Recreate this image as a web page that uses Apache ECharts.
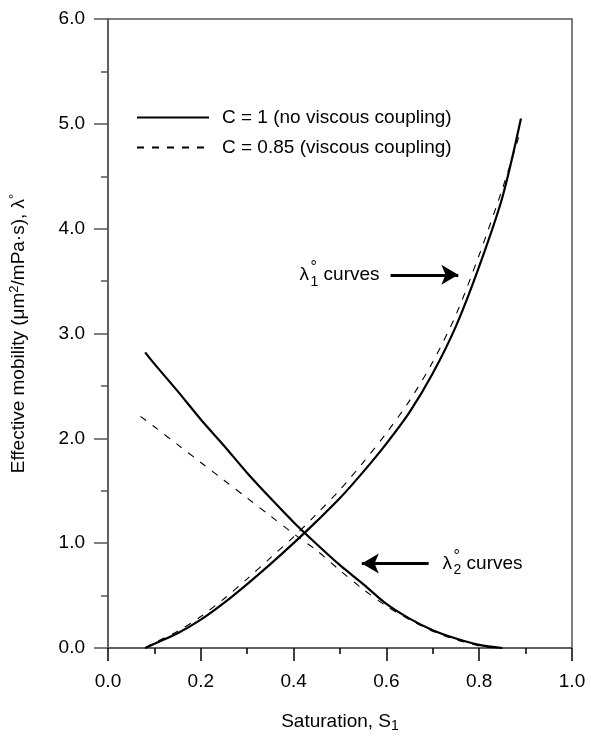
<!DOCTYPE html>
<html><head><meta charset="utf-8">
<script src="https://cdn.jsdelivr.net/npm/echarts@6/dist/echarts.min.js"></script>
<style>html,body{margin:0;padding:0;background:#fff}#c{width:591px;height:738px}</style>
</head><body><div id="c"></div>
<script>
var xTicks = [0.0, 0.2, 0.4, 0.6, 0.8, 1.0];
var yTicks = [0.0, 1.0, 2.0, 3.0, 4.0, 5.0, 6.0];
var seriesNames = ['C = 1 (no viscous coupling)', 'C = 0.85 (viscous coupling)'];
// lambda1 (C = 1)
var s1Solid = [0.08,0.10,0.15,0.20,0.25,0.30,0.35,0.40,0.45,0.50,0.55,0.60,0.65,0.70,0.75,0.80,0.85,0.89];
var l1Solid = [0.00,0.04,0.14,0.27,0.43,0.61,0.80,1.00,1.21,1.43,1.68,1.95,2.25,2.62,3.07,3.64,4.30,5.05];
// lambda2 (C = 1)
var s2Solid = [0.08,0.10,0.15,0.20,0.25,0.30,0.35,0.40,0.45,0.50,0.55,0.60,0.65,0.70,0.75,0.80,0.85];
var l2Solid = [2.82,2.71,2.45,2.18,1.93,1.67,1.43,1.20,0.99,0.79,0.61,0.42,0.28,0.17,0.09,0.03,0.00];
// lambda1 (C = 0.85)
var s1Dash = [0.08,0.10,0.15,0.20,0.25,0.30,0.35,0.40,0.45,0.50,0.55,0.60,0.65,0.70,0.75,0.80,0.85,0.885];
var l1Dash = [0.00,0.05,0.16,0.30,0.47,0.66,0.86,1.06,1.28,1.51,1.77,2.05,2.36,2.73,3.18,3.75,4.38,4.87];
// lambda2 (C = 0.85)
var s2Dash = [0.07,0.10,0.15,0.20,0.25,0.30,0.35,0.40,0.45,0.50,0.55,0.60,0.65,0.70,0.75,0.80,0.83];
var l2Dash = [2.21,2.11,1.94,1.77,1.60,1.43,1.26,1.09,0.93,0.74,0.56,0.40,0.27,0.16,0.08,0.02,0.00];
// arrows [tail, head] in data units
var arrow1 = [[0.609, 3.56], [0.755, 3.56]];
var arrow2 = [[0.691, 0.805], [0.547, 0.805]];

function pairs(xs, ys){ return xs.map(function(x,i){return [x, ys[i]];}); }
var FONT = 'Liberation Sans, Arial, sans-serif';
var FS = 19;
var chart = echarts.init(document.getElementById('c'));
var axisCol = '#555';
function arrowLine(a){
  return {
    silent: true, symbol: ['none','arrow'], symbolSize: [15, 17],
    label: {show:false},
    lineStyle: {color:'#000', width: 3, type:'solid'},
    data: [[{coord: a[0]}, {coord: a[1]}]],
    emphasis: {disabled:true}
  };
}
chart.setOption({
  animation: false,
  textStyle: {fontFamily: FONT, color:'#000'},
  grid: {left: 105, right: 19, top: 19, bottom: 79, show: true, borderColor: axisCol, borderWidth: 1.5, backgroundColor:'transparent'},
  legend: {
    orient: 'vertical', left: 131, top: 103, itemWidth: 72, itemHeight: 14, itemGap: 11,
    data: seriesNames,
    itemStyle: {opacity: 0},
    textStyle: {fontFamily: FONT, fontSize: FS, color:'#000', padding:[0,0,0,8]},
    selectedMode: false
  },
  xAxis: {
    type: 'value', min: 0, max: 1, interval: 0.2,
    name: 'Saturation, S{sub|1}', nameLocation: 'middle', nameGap: 62,
    nameTextStyle: {fontFamily: FONT, fontSize: FS, color:'#000',
      rich: {sub: {fontFamily: FONT, fontSize: 14, color:'#000', verticalAlign:'bottom', padding:[9,0,0,0]}}},
    axisLine: {show: true, lineStyle: {color: axisCol, width: 1.5}},
    axisTick: {show: true, inside: false, length: 13, lineStyle: {color: '#000', width: 1.5}},
    minorTick: {show: true, splitNumber: 2, length: 6, lineStyle: {color: '#000', width: 1.5}},
    splitLine: {show: false},
    axisLabel: {fontFamily: FONT, fontSize: FS, color:'#000', margin: 24, formatter: function(v){return v.toFixed(1);}}
  },
  yAxis: {
    type: 'value', min: 0, max: 6, interval: 1,
    name: 'Effective mobility (μm{sup|2}/mPa·s), λ{sup|°}', nameLocation: 'middle', nameGap: 79,
    nameTextStyle: {fontFamily: FONT, fontSize: FS, color:'#000',
      rich: {sup: {fontFamily: FONT, fontSize: 13, color:'#000', verticalAlign:'top', padding:[0,0,8,0]}}},
    axisLine: {show: true, lineStyle: {color: axisCol, width: 1.5}},
    axisTick: {show: true, inside: false, length: 14, lineStyle: {color: axisCol, width: 1.5}},
    minorTick: {show: true, splitNumber: 2, length: 7, lineStyle: {color: axisCol, width: 1.5}},
    splitLine: {show: false},
    axisLabel: {fontFamily: FONT, fontSize: FS, color:'#000', margin: 23, formatter: function(v){return v.toFixed(1);}}
  },
  series: [
    {name: seriesNames[0], type:'line', data: pairs(s1Solid, l1Solid), smooth: 0.3, showSymbol:false, symbol:'none',
     lineStyle:{color:'#000', width:2.2, type:'solid'}, itemStyle:{color:'#000'}, z: 3,
     markLine: arrowLine(arrow1)},
    {name: seriesNames[0], type:'line', data: pairs(s2Solid, l2Solid), smooth: 0.3, showSymbol:false, symbol:'none',
     lineStyle:{color:'#000', width:2.2, type:'solid'}, itemStyle:{color:'#000'}, z: 3,
     markLine: arrowLine(arrow2)},
    {name: seriesNames[1], type:'line', data: pairs(s1Dash, l1Dash), smooth: 0.3, showSymbol:false, symbol:'none',
     lineStyle:{color:'#000', width:1.1, type:[7,8]}, itemStyle:{color:'#000'}, z: 2},
    {name: seriesNames[1], type:'line', data: pairs(s2Dash, l2Dash), smooth: 0.3, showSymbol:false, symbol:'none',
     lineStyle:{color:'#000', width:1.1, type:[7,8]}, itemStyle:{color:'#000'}, z: 2}
  ]
});

// Annotation labels with stacked super/subscripts, anchored at arrow tails
function annot(tail, sub, dx){
  var p = chart.convertToPixel({gridIndex:0}, tail);
  var x0 = p[0] + dx, y0 = p[1];
  return [
    {type:'text', x: x0, y: y0, style:{text:'λ', font: FS+'px '+FONT, fill:'#000', textAlign:'left', textVerticalAlign:'middle'}},
    {type:'text', x: x0+11, y: y0-7, style:{text:'°', font: '16px '+FONT, fill:'#000', textAlign:'left', textVerticalAlign:'middle'}},
    {type:'text', x: x0+11, y: y0+7, style:{text:sub, font: '14px '+FONT, fill:'#000', textAlign:'left', textVerticalAlign:'middle'}},
    {type:'text', x: x0+24, y: y0, style:{text:'curves', font: FS+'px '+FONT, fill:'#000', textAlign:'left', textVerticalAlign:'middle'}}
  ];
}
chart.setOption({graphic: annot(arrow1[0], '1', -91).concat(annot(arrow2[0], '2', 14))});
</script></body></html>
